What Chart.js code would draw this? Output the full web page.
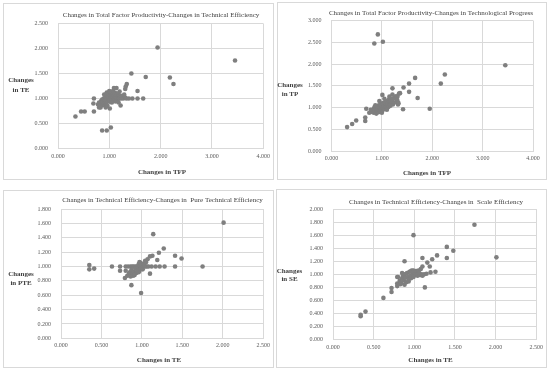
<!DOCTYPE html>
<html><head><meta charset="utf-8">
<script src="https://cdn.jsdelivr.net/npm/chart.js@4"></script>
<style>
html,body{margin:0;padding:0;background:#fff}
body{width:550px;height:371px;position:relative;overflow:hidden}
canvas{position:absolute}
</style></head><body>
<canvas id="c1"></canvas><canvas id="c2"></canvas><canvas id="c3"></canvas><canvas id="c4"></canvas>
<script>
// ---- Panel 1: TFP vs TE ----
const tfp1 = [3.45,1.94,1.43,1.71,2.18,2.25,1.34,1.32,1.31,1.55,1.09,1.14,1.45,1.55,1.66,0.34,0.45,0.52,0.70,0.70,0.69,0.86,0.95,1.03,0.80,1.01,1.22,0.93,
  0.78,0.80,0.82,0.84,0.85,0.86,0.87,0.88,0.89,0.90,0.91,0.92,0.93,0.94,0.95,0.96,0.97,0.98,0.99,1.00,1.01,1.02,1.03,1.04,1.05,1.06,1.07,1.08,1.09,1.10,1.11,1.12,1.13,1.14,1.15,1.16,1.17,1.18,1.19,1.20,1.21,1.23,1.25,1.27,1.29,1.31,1.33,0.96,1.05,1.12,0.90,0.95,1.00,1.07,0.83,1.38,1.18];
const te1  = [1.76,2.02,1.50,1.43,1.42,1.29,1.29,1.24,1.19,1.15,1.21,1.21,1.00,1.00,1.00,0.64,0.74,0.74,0.74,1.00,0.90,0.36,0.36,0.42,0.82,0.80,0.86,0.82,
  0.88,0.92,0.86,0.95,0.90,0.98,0.93,0.87,1.00,0.95,0.91,1.02,0.97,0.89,1.00,1.05,0.94,0.99,1.03,0.97,1.08,1.01,0.93,1.04,0.99,1.10,1.02,0.96,1.06,1.00,1.12,1.04,0.98,1.08,1.02,0.95,1.10,1.04,1.00,1.14,1.06,1.00,1.05,1.00,1.08,1.02,1.00,0.86,0.92,0.94,1.08,1.12,1.15,1.15,0.82,1.00,0.92];

// ---- Panel 2: TFP vs TP ----
const tfp2 = [0.92,0.85,1.02,2.25,2.17,3.45,1.66,1.54,1.43,1.54,1.71,1.95,1.42,1.21,0.31,0.41,0.49,0.67,0.67,0.69,1.01,1.34,1.31,1.31,1.32,
  0.80,0.82,0.84,0.85,0.86,0.88,0.89,0.90,0.91,0.92,0.93,0.94,0.95,0.96,0.97,0.98,0.99,1.00,1.01,1.02,1.03,1.04,1.05,1.06,1.07,1.08,1.09,1.10,1.11,1.12,1.13,1.14,1.15,1.16,1.17,1.18,1.19,1.20,1.22,1.24,1.26,1.28,1.30,0.75,0.78,0.95,1.05,1.00,1.10,1.15,1.21,0.87,1.36,1.33];
const tp2  = [2.68,2.47,2.51,1.76,1.55,1.97,1.68,1.55,1.46,1.36,1.22,0.97,0.96,1.44,0.55,0.62,0.70,0.77,0.69,0.97,1.29,1.32,1.25,1.15,1.07,
  0.90,0.95,0.88,1.00,0.93,0.97,0.86,1.02,0.92,0.98,0.89,1.05,0.95,1.00,0.91,1.08,0.97,1.03,0.94,1.10,1.00,1.05,0.96,1.12,1.02,1.08,0.99,1.15,1.05,1.10,1.01,1.18,1.08,1.13,1.04,1.20,1.10,1.16,1.07,1.22,1.12,1.26,1.18,0.88,0.95,1.15,1.20,0.88,0.95,1.25,1.30,1.05,1.33,1.10];

// ---- Panel 3: TE vs PTE ----
const te3  = [2.01,1.14,1.27,1.21,1.13,1.10,1.07,1.19,1.41,1.49,1.41,1.75,0.35,0.35,0.41,0.63,0.73,0.73,0.80,0.80,0.79,0.82,0.84,0.87,0.99,1.10,1.17,1.22,1.28,
  0.83,0.86,0.88,0.90,0.92,0.94,0.96,0.98,1.00,1.02,1.04,1.06,1.08,1.12,
  0.85,0.87,0.88,0.90,0.92,0.93,0.95,0.96,0.97,0.98,0.99,1.00,1.01,1.02,1.03,1.05,0.86,0.89,0.94,0.97,0.96,1.04,0.91];
const pte3 = [1.61,1.45,1.25,1.19,1.15,1.14,1.10,1.09,1.15,1.11,1.00,1.00,1.02,0.96,0.97,1.00,1.00,0.94,1.00,0.94,0.84,0.87,0.90,0.74,0.63,0.90,1.00,1.00,1.00,
  1.00,1.00,1.00,1.00,1.00,1.00,1.00,1.00,1.00,1.00,1.00,1.00,1.00,1.00,
  0.92,0.95,0.89,0.93,0.97,0.91,0.95,1.03,0.94,1.05,0.98,1.02,0.96,1.04,1.01,1.06,0.86,0.87,0.92,1.06,0.92,1.08,0.88];

// ---- Panel 4: TE vs SE ----
const te4 = [1.74,0.99,1.40,1.48,1.40,2.01,1.28,1.22,0.88,1.10,1.16,1.19,1.10,1.26,1.20,1.13,0.34,0.34,0.40,0.62,0.72,0.72,0.79,0.79,
  0.80,0.82,0.84,0.85,0.86,0.87,0.88,0.89,0.90,0.91,0.92,0.93,0.94,0.95,0.96,0.97,0.98,0.99,1.00,1.01,1.02,1.03,1.04,1.05,1.06,1.07,1.08,1.09,1.10,1.12,1.15,0.83,0.88,0.93,0.96,0.99,0.85,0.79];
const se4 = [1.76,1.60,1.42,1.36,1.25,1.26,1.29,1.23,1.20,1.25,1.18,1.12,1.12,1.04,1.03,0.80,0.36,0.38,0.43,0.64,0.73,0.79,0.86,0.82,
  0.96,0.90,0.87,0.94,0.98,0.91,1.00,0.95,0.88,1.02,0.96,0.92,1.04,0.98,0.94,1.06,1.00,0.96,1.03,0.99,1.05,1.01,0.98,1.06,1.02,0.99,1.08,1.00,0.98,1.00,1.01,0.85,0.84,0.89,1.05,1.06,1.02,0.96];

const FONT = "'Liberation Serif','Times New Roman',serif";
Chart.defaults.font.family = FONT;

const panels = [
  {id:'c1', box:[3,3,271,177], plot:[58,23.5,263.5,148.5], x:tfp1, y:te1, xmax:4, xstep:1, ymax:2.5, ystep:0.5,
   title:'Changes in Total Factor Productivity-Changes in Technical Efficiency', tpos:[161,15],
   ytitle:['Changes','in TE'], ypos:[21,80,90], xtitle:'Changes in TFP', xpos:[162,172]},
  {id:'c2', box:[277,2,270,178], plot:[331.5,20.5,533,151], x:tfp2, y:tp2, xmax:4, xstep:1, ymax:3, ystep:0.5,
   title:'Changes in Total Factor Productivity-Changes in Technological Progress', tpos:[431,13.5],
   ytitle:['Changes','in TP'], ypos:[290,85,94], xtitle:'Changes in TFP', xpos:[427,173]},
  {id:'c3', box:[3,190,271,178], plot:[61,209,265.5,338.3], x:te3, y:pte3, xmax:2.5, xstep:0.5, ymax:1.8, ystep:0.2,
   title:'Changes in Technical Efficiency-Changes in  Pure Technical Efficiency', tpos:[162.5,200],
   ytitle:['Changes','in PTE'], ypos:[21,274,283], xtitle:'Changes in TE', xpos:[159,360]},
  {id:'c4', box:[276,189,271,179], plot:[333,209,537.5,339.7], x:te4, y:se4, xmax:2.5, xstep:0.5, ymax:2, ystep:0.2,
   title:'Changes in Technical Efficiency-Changes in  Scale Efficiency', tpos:[436,202],
   ytitle:['Changes','in SE'], ypos:[289.5,271,279], xtitle:'Changes in TE', xpos:[430.5,360]}
];

const textPlugin = {
  id:'txt',
  afterDraw(chart, args, o){
    const ctx = chart.ctx, p = o.p, bx = p.box[0], by = p.box[1];
    ctx.save();
    ctx.strokeStyle = '#d9d9d9'; ctx.lineWidth = 1;
    ctx.strokeRect(0.5,0.5,p.box[2]-1,p.box[3]-1);
    ctx.textAlign = 'center'; ctx.textBaseline = 'middle';
    ctx.fillStyle = '#404040';
    ctx.font = "7px " + FONT;
    ctx.fillText(p.title, p.tpos[0]-bx, p.tpos[1]-by);
    ctx.font = "bold 7px " + FONT;
    ctx.fillText(p.xtitle, p.xpos[0]-bx, p.xpos[1]-by);
    ctx.fillText(p.ytitle[0], p.ypos[0]-bx, p.ypos[1]-by);
    ctx.fillText(p.ytitle[1], p.ypos[0]-bx, p.ypos[2]-by);
    ctx.restore();
  }
};

const YW = 30, XH = 18;
panels.forEach(p => {
  const cv = document.getElementById(p.id);
  const [bx,by,bw,bh] = p.box;
  cv.width = bw; cv.height = bh;
  cv.style.left = bx+'px'; cv.style.top = by+'px';
  cv.style.width = bw+'px'; cv.style.height = bh+'px';
  const l = p.plot[0]-bx, t = p.plot[1]-by, r = p.plot[2]-bx, b = p.plot[3]-by;
  const pts = p.x.map((v,i) => ({x:v, y:p.y[i]}));
  new Chart(cv, {
    type:'scatter',
    data:{datasets:[{data:pts, backgroundColor:'#7f7f7f', borderWidth:0, pointRadius:2.3}]},
    plugins:[textPlugin],
    options:{
      responsive:false, animation:false, devicePixelRatio:1,
      layout:{padding:{left:l-YW, top:t, right:bw-r, bottom:bh-b-XH}},
      plugins:{legend:{display:false}, tooltip:{enabled:false}, txt:{p:p}},
      scales:{
        x:{type:'linear', min:0, max:p.xmax,
           afterFit(s){ s.height = XH; },
           grid:{color:'#d9d9d9', drawTicks:false}, border:{color:'#d9d9d9'},
           ticks:{stepSize:p.xstep, padding:4, color:'#595959', font:{size:6}, maxRotation:0,
                  callback:v => v.toFixed(3)}},
        y:{type:'linear', min:0, max:p.ymax,
           afterFit(s){ s.width = YW; },
           grid:{color:'#d9d9d9', drawTicks:false}, border:{color:'#d9d9d9'},
           ticks:{stepSize:p.ystep, padding:10, color:'#595959', font:{size:6},
                  callback:v => v.toFixed(3)}}
      }
    }
  });
});
</script>
</body></html>
